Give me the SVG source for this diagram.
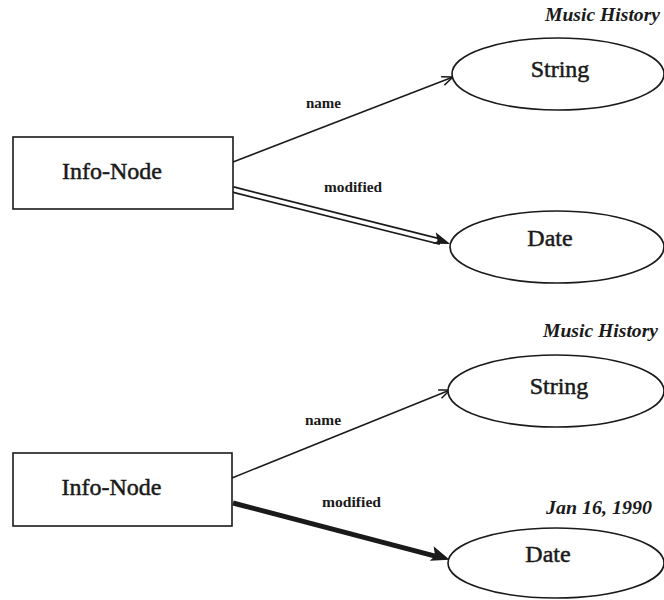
<svg xmlns="http://www.w3.org/2000/svg" width="664" height="600" viewBox="0 0 664 600">
  <style>
    .box { fill: #fff; stroke: #1a1a1a; stroke-width: 1.6; }
    .oval { fill: #fff; stroke: #1a1a1a; stroke-width: 1.6; }
    .label { font-family: 'Liberation Serif', 'Times New Roman', serif; font-size: 24px; fill: #1a1a1a; stroke: #1a1a1a; stroke-width: 0.5; text-anchor: middle; }
    .edge-label { font-family: 'Liberation Serif', 'Times New Roman', serif; font-size: 14px; font-weight: bold; fill: #1a1a1a; }
    .note { font-family: 'Liberation Serif', 'Times New Roman', serif; font-size: 18px; font-weight: bold; font-style: italic; fill: #1a1a1a; }
    .thin { stroke: #1a1a1a; stroke-width: 1.5; fill: none; }
  </style>
  <defs>
    <marker id="open-arrow" markerUnits="userSpaceOnUse" markerWidth="14" markerHeight="12" refX="12" refY="6" orient="auto" overflow="visible">
      <path d="M1,1.5 L12,6 L1,10.5" fill="none" stroke="#1a1a1a" stroke-width="1.5"/>
    </marker>
  </defs>

  <rect width="664" height="600" fill="#fff"/>

  <!-- connectors -->
  <g id="connectors">
    <!-- upper figure: name (plain) -->
    <line class="thin" x1="233" y1="162" x2="453" y2="77" marker-end="url(#open-arrow)"/>
    <!-- upper figure: modified (double line) -->
    <g transform="translate(233,189.5) rotate(14.1)">
      <line x1="0" y1="0" x2="214" y2="0" stroke="#1a1a1a" stroke-width="7"/>
      <line x1="0" y1="0" x2="211" y2="0" stroke="#fff" stroke-width="3.6"/>
      <polygon points="224,0 207,-8 211,0 207,4" fill="#1a1a1a"/>
    </g>
    <!-- lower figure: name (plain) -->
    <line class="thin" x1="232" y1="478" x2="450" y2="390" marker-end="url(#open-arrow)"/>
    <!-- lower figure: modified (heavy line) -->
    <g transform="translate(233,503) rotate(14.7)">
      <line x1="0" y1="0" x2="212" y2="0" stroke="#1a1a1a" stroke-width="5"/>
      <polygon points="224,0 205,-9 209,0 205,6" fill="#1a1a1a"/>
    </g>

    <text class="edge-label" x="306" y="108" textLength="35" lengthAdjust="spacingAndGlyphs">name</text>
    <text class="edge-label" x="324" y="192" textLength="58" lengthAdjust="spacingAndGlyphs">modified</text>
    <text class="edge-label" x="305" y="425" textLength="36" lengthAdjust="spacingAndGlyphs">name</text>
    <text class="edge-label" x="322" y="507" textLength="59" lengthAdjust="spacingAndGlyphs">modified</text>
  </g>

  <!-- upper figure nodes -->
  <g id="info-node-1">
    <rect class="box" x="13" y="137" width="220" height="72"/>
    <text class="label" x="112" y="179">Info-Node</text>
  </g>
  <g id="string-1">
    <ellipse class="oval" cx="558" cy="74" rx="106" ry="36"/>
    <text class="label" x="560" y="77">String</text>
    <text class="note" x="660" y="21" text-anchor="end" textLength="115" lengthAdjust="spacingAndGlyphs">Music History</text>
  </g>
  <g id="date-1">
    <ellipse class="oval" cx="557" cy="247" rx="107" ry="36"/>
    <text class="label" x="550" y="246">Date</text>
  </g>

  <!-- lower figure nodes -->
  <g id="info-node-2">
    <rect class="box" x="13" y="453" width="219" height="73"/>
    <text class="label" x="111.5" y="495">Info-Node</text>
  </g>
  <g id="string-2">
    <ellipse class="oval" cx="556" cy="391" rx="108" ry="36"/>
    <text class="label" x="559" y="394">String</text>
    <text class="note" x="658" y="337" text-anchor="end" textLength="115" lengthAdjust="spacingAndGlyphs">Music History</text>
  </g>
  <g id="date-2">
    <ellipse class="oval" cx="556" cy="563" rx="108" ry="35"/>
    <text class="label" x="548" y="562">Date</text>
    <text class="note" x="652" y="514" text-anchor="end" textLength="106" lengthAdjust="spacingAndGlyphs">Jan 16, 1990</text>
  </g>
</svg>
